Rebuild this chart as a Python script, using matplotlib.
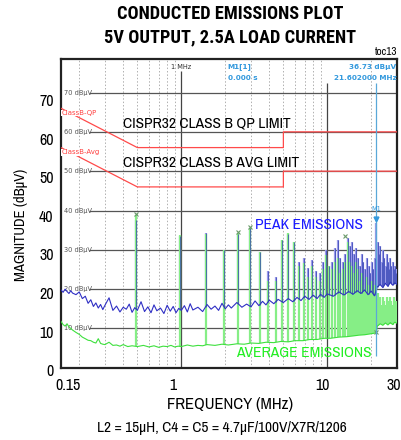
import numpy as np
import matplotlib
matplotlib.use("Agg")
import matplotlib.pyplot as plt
from matplotlib.transforms import ScaledTranslation
from matplotlib.ticker import NullLocator

NARROW = ['Archivo Narrow', 'DejaVu Sans']
NARROW_BOLD = ['Roboto Condensed', 'IBM Plex Sans Condensed', 'DejaVu Sans']

# ---- data ----
# peak detector noise floor (MHz, dBuV)
pk_floor_f = [0.15, 0.155, 0.16, 0.165, 0.17, 0.175, 0.18, 0.19, 0.20, 0.21, 0.22, 0.23, 0.24, 0.25,
              0.26, 0.27, 0.28, 0.29, 0.30, 0.32, 0.34, 0.36, 0.38, 0.40, 0.42, 0.44, 0.46, 0.48,
              0.50, 0.53, 0.56, 0.59, 0.62, 0.65, 0.68, 0.72, 0.76, 0.80, 0.84, 0.88, 0.92, 0.96,
              1.0, 1.05, 1.1, 1.15, 1.2, 1.3, 1.4, 1.5, 1.6, 1.7, 1.8, 1.9, 2.0, 2.1, 2.2, 2.4,
              2.6, 2.8, 3.0, 3.2, 3.4, 3.6, 3.8, 4.0, 4.3, 4.6, 5.0, 5.4, 5.8, 6.2, 6.6, 7.0,
              7.5, 8.0, 8.5, 9.0, 9.5, 10, 11, 12, 13, 14, 15, 16, 17, 18, 19, 20, 21, 22, 23,
              24, 25, 26, 27, 28, 29, 30]
pk_floor_db = [19.8, 19.2, 20.0, 19.4, 18.9, 19.6, 19.0, 18.6, 19.3, 17.6, 18.2, 16.4, 17.3, 15.6,
               16.5, 15.2, 16.1, 14.8, 15.9, 17.8, 14.6, 15.7, 14.2, 15.4, 14.9, 16.2, 14.1, 15.3,
               14.6, 16.8, 14.3, 15.5, 14.0, 16.0, 14.5, 15.2, 13.8, 15.9, 14.4, 15.6, 14.0, 15.1,
               14.6, 15.8, 14.2, 16.3, 14.7, 15.4, 14.3, 16.1, 14.9, 15.7, 14.6, 16.4, 15.0, 16.0,
               15.2, 16.6, 15.4, 16.2, 15.5, 17.0, 15.8, 16.9, 16.0, 17.2, 16.3, 17.4, 16.6, 17.6,
               16.8, 17.9, 17.1, 18.2, 17.4, 18.5, 17.6, 18.7, 17.9, 18.8, 18.2, 19.3, 18.5, 19.4,
               18.7, 19.6, 18.9, 19.8, 18.6, 19.5, 18.3, 20.6, 21.2, 20.4, 21.5, 20.7, 21.8, 21.0,
               21.6, 21.2]

# average detector noise floor
av_floor_f = [0.15, 0.155, 0.16, 0.165, 0.17, 0.175, 0.18, 0.19, 0.20, 0.21, 0.22, 0.23, 0.24, 0.25,
              0.26, 0.27, 0.28, 0.29, 0.30, 0.32, 0.34, 0.36, 0.38, 0.40, 0.43, 0.46, 0.50, 0.55,
              0.60, 0.65, 0.70, 0.75, 0.80, 0.85, 0.90, 0.95, 1.0, 1.1, 1.2, 1.3, 1.4, 1.5, 1.7,
              1.9, 2.1, 2.4, 2.7, 3.0, 3.4, 3.8, 4.3, 4.8, 5.4, 6.0, 6.8, 7.6, 8.5, 9.5, 10.5,
              12, 13.5, 15, 16.5, 18, 19.5, 21, 21.6, 22, 23, 24, 25, 26, 27, 28, 29, 30]
av_floor_db = [11.8, 11.0, 10.6, 11.2, 10.4, 10.0, 9.6, 9.0, 8.5, 7.8, 7.4, 7.0, 6.9, 6.5,
               6.3, 7.4, 6.2, 6.0, 5.9, 6.5, 5.7, 5.8, 5.5, 5.9, 5.4, 5.6, 5.4, 5.7,
               5.3, 5.6, 5.2, 5.5, 5.4, 5.7, 5.3, 5.5, 5.4, 5.8, 5.5, 5.7, 5.6, 5.9, 5.7,
               6.0, 5.8, 6.1, 6.0, 6.3, 6.2, 6.5, 6.4, 6.7, 6.6, 6.9, 6.9, 7.2, 7.2, 7.5, 7.5,
               7.8, 7.9, 8.1, 8.3, 8.4, 8.6, 8.8, 8.9, 10.6, 11.2, 10.8, 11.4, 10.9, 11.5, 11.0, 11.6, 11.3]

# switching harmonics (MHz) with peak and average levels
harm_f = [0.49, 0.98, 1.47, 1.96, 2.46, 2.95, 3.44, 3.93, 4.42, 4.91,
          5.40, 5.89, 6.38, 6.87, 7.36, 7.86, 8.35, 8.84, 9.33, 9.82,
          10.31, 10.80, 11.29, 11.78, 12.27, 12.76, 13.26, 13.75, 14.24, 14.73,
          15.22, 15.71, 16.20, 16.69, 17.18, 17.67, 18.17, 18.66, 19.15, 19.64,
          20.13, 20.62, 21.11, 21.60, 22.09, 22.58, 23.07, 23.56, 24.06, 24.55,
          25.04, 25.53, 26.02, 26.51, 27.00, 27.49, 27.98, 28.47, 28.97, 29.46, 29.95]
harm_pk = [37.5, 33.5, 34.2, 30.0, 34.0, 35.5, 29.5, 24.5, 23.0, 32.5,
           34.0, 32.0, 27.0, 28.0, 25.5, 27.5, 24.5, 24.0, 27.0, 30.0,
           26.0, 27.0, 30.5, 32.5, 28.0, 27.0, 29.0, 33.0, 31.0, 32.0,
           29.0, 30.5, 28.0, 26.0, 29.0, 27.0, 25.0, 28.0, 26.0, 24.0,
           27.0, 25.0, 28.0, 36.7, 32.0, 29.0, 31.0, 27.0, 30.0, 28.0,
           26.0, 29.0, 27.0, 25.0, 28.0, 26.0, 27.0, 25.0, 26.0, 24.0, 25.0]
harm_av = [38.9, 33.8, 34.0, 30.0, 34.3, 35.5, 29.5, 22.0, 22.0, 32.5,
           34.2, 32.0, 26.0, 26.6, 23.0, 26.0, 23.0, 22.0, 25.0, 28.7,
           26.0, 25.0, 27.0, 28.0, 24.0, 25.0, 27.0, 32.0, 27.0, 26.0,
           24.0, 27.0, 25.0, 22.0, 24.0, 21.0, 20.0, 23.0, 21.0, 19.0,
           22.0, 20.0, 21.0, 16.0, 19.0, 17.0, 18.0, 16.0, 18.0, 17.0,
           16.0, 18.0, 17.0, 16.0, 18.0, 17.0, 16.0, 18.0, 17.0, 16.0, 17.0]

# CISPR32 class B limits
qp_lim_f = [0.15, 0.5, 5.0, 5.0, 30.0]
qp_lim_db = [66, 56, 56, 60, 60]
av_lim_f = [0.15, 0.5, 5.0, 5.0, 30.0]
av_lim_db = [56, 46, 46, 50, 50]

# analyzer peak-search markers
mark_f = [0.49, 2.46, 2.95, 13.26, 21.60]
mark_db = [39.2, 34.6, 35.8, 33.5, 9.0]

m1_f, m1_db = 21.602, 36.73

grid_db = [10, 20, 30, 40, 50, 60, 70]
grid_dotted = [0.2, 0.3, 0.4, 0.5, 0.6, 0.7, 0.8, 0.9, 2, 3, 4, 5, 6, 7, 8, 9, 20]
ytick_vals = [0, 10, 20, 30, 40, 50, 60, 70]
xtick_labels = ['0.15', '1', '10', '30']

# ---- figure ----
fig = plt.figure(figsize=(4.02, 4.40), dpi=100)
ax = fig.add_axes([61 / 402, (440 - 367.8) / 440, 336 / 402, (367.8 - 59.5) / 440])
ax.set_xscale('log')
ax.set_xlim(0.15, 30)
ax.set_ylim(0, 78.4)

# analyzer grid
for f in grid_dotted:
    ax.axvline(f, color='#b0b0b0', lw=0.7, ls=(0, (1.5, 2)), zorder=1)
ax.vlines([1, 10], 0, [75.5, 72.5], color='#444444', lw=0.9, zorder=1)
ax.hlines(grid_db, 0.232, 30, color='#555555', lw=0.9, zorder=1)
for v in grid_db:
    ax.text(0.157, v, f'{v} dB\u00b5V', fontsize=4.8, color='#555555', va='center', ha='left', zorder=2)
ax.text(1.0, 76.6, '1 MHz', fontsize=4.8, color='#333333', ha='center', va='center')

# limit lines
ax.plot(qp_lim_f, qp_lim_db, color='#ff4a4a', lw=0.9, zorder=3)
ax.plot(av_lim_f, av_lim_db, color='#ff4a4a', lw=0.9, zorder=3)
ax.text(0.151, 64.8, 'ClassB-QP', fontsize=5, color='#ff4040', va='center', ha='left', zorder=4,
        bbox=dict(fc='white', ec='none', pad=0.3))
ax.text(0.151, 54.8, 'ClassB-Avg', fontsize=5, color='#ff4040', va='center', ha='left', zorder=4,
        bbox=dict(fc='white', ec='none', pad=0.3))

# emission traces
lf_h = np.log10(harm_f)
base_pk = np.interp(lf_h, np.log10(pk_floor_f), pk_floor_db)
base_av = np.interp(lf_h, np.log10(av_floor_f), av_floor_db)
ax.vlines(harm_f, base_pk, harm_pk, color='#9a9ae8', lw=1.6, zorder=4)
ax.vlines(harm_f, base_av, harm_av, color='#86ee86', lw=1.6, zorder=5)
ax.plot(pk_floor_f, pk_floor_db, color='#2f2fc4', lw=0.8, zorder=6)
ax.plot(av_floor_f, av_floor_db, color='#3ee03e', lw=0.8, zorder=6)
ax.vlines(harm_f, base_pk, harm_pk, color='#2f3fb0', lw=0.5, zorder=7)
ax.plot(mark_f, mark_db, ls='none', marker='x', ms=2.5, mew=0.8, color='#6a9a6a', zorder=8)

# marker M1
ax.vlines(m1_f, 3, 72.5, color='#5aa8d8', lw=0.9, zorder=8)
ax.plot([m1_f], [m1_db + 1.2], marker='v', ms=3.5, color='#3399dd', ls='none', zorder=9)
ax.text(m1_f, m1_db + 3.0, 'M1', fontsize=4.8, color='#3399dd', ha='center', va='bottom', zorder=9)
ax.text(2.08, 76.6, 'M1[1]', fontsize=5.2, color='#3399dd', fontweight='bold', va='center')
ax.text(2.08, 73.6, '0.000 s', fontsize=5.2, color='#3399dd', fontweight='bold', va='center')
ax.text(29.8, 76.6, '36.73 dB\u00b5V', fontsize=5.2, color='#3399dd', fontweight='bold', va='center', ha='right')
ax.text(29.8, 73.6, '21.602000 MHz', fontsize=5.2, color='#3399dd', fontweight='bold', va='center', ha='right')

# overlay annotations
ax.text(0.396, 60.3, 'CISPR32 CLASS B QP LIMIT', family=NARROW, fontsize=11.2, va='bottom', zorder=10)
ax.text(0.396, 50.3, 'CISPR32 CLASS B AVG LIMIT', family=NARROW, fontsize=11.2, va='bottom', zorder=10)
ax.text(3.2, 36.3, 'PEAK EMISSIONS', family=NARROW, fontsize=11.2, color='#1a1aff', va='center', zorder=10)
ax.text(2.37, 3.8, 'AVERAGE EMISSIONS', family=NARROW, fontsize=11.2, color='#22ee22', va='center', zorder=10)

# axes styling
for s in ax.spines.values():
    s.set_linewidth(1.6)
    s.set_color('#222222')
ax.xaxis.set_minor_locator(NullLocator())
ax.set_xticks([0.167, 0.868, 9.29, 28.7], xtick_labels)
ax.tick_params(axis='x', length=0, pad=7, labelsize=11.5)
for lab in ax.get_xticklabels():
    lab.set_family(NARROW)
ax.set_yticks([])
ytr = ax.get_yaxis_transform()
for v in ytick_vals:
    off = (3.9 + 0.073 * v) / 100
    ax.text(-0.022, v, str(v), transform=ytr + ScaledTranslation(0, -off, fig.dpi_scale_trans),
            ha='right', va='center', family=NARROW, fontsize=11.5, clip_on=False)

fig.text(21 / 402, 1 - 225 / 440, 'MAGNITUDE (dB\u00b5V)', rotation=90, ha='center', va='center',
         family=NARROW, fontsize=10.5)
fig.text(230 / 402, 1 - 404 / 440, 'FREQUENCY (MHz)', ha='center', va='center', family=NARROW, fontsize=12)
fig.text(222 / 402, 1 - 428 / 440, 'L2 = 15\u00b5H, C4 = C5 = 4.7\u00b5F/100V/X7R/1206', ha='center',
         va='center', family=NARROW, fontsize=11)
fig.text(230 / 402, 1 - 14 / 440, 'CONDUCTED EMISSIONS PLOT', ha='center', va='center', family=NARROW_BOLD,
         fontsize=13.2, fontweight='bold')
fig.text(230 / 402, 1 - 37 / 440, '5V OUTPUT, 2.5A LOAD CURRENT', ha='center', va='center', family=NARROW_BOLD,
         fontsize=13.2, fontweight='bold')
fig.text(397 / 402, 1 - 52 / 440, 'toc13', ha='right', va='center', family=NARROW, fontsize=8)

fig.savefig('out.png', dpi=100)
